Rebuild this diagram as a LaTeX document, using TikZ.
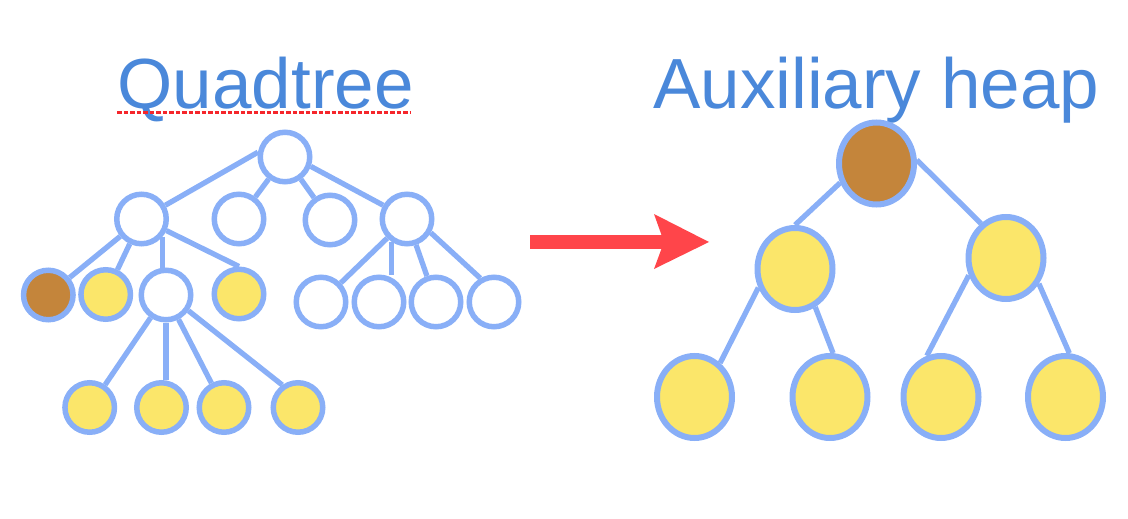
\documentclass[tikz,border=0pt]{standalone}
\usepackage{fontspec}
\setmainfont{Liberation Sans}
\usetikzlibrary{shapes.geometric}
\definecolor{edgeblue}{HTML}{89AFF7}
\definecolor{nodeyellow}{HTML}{FBE66A}
\definecolor{nodebrown}{HTML}{C4853B}
\definecolor{titleblue}{HTML}{4A88DA}
\definecolor{arrowred}{HTML}{FF454A}
\definecolor{squig}{HTML}{F5262B}
\begin{document}
\begin{tikzpicture}[x=1pt,y=-1pt,
  qn/.style={circle,draw=edgeblue,line width=5.5pt,minimum size=49.5pt,inner sep=0pt,fill=white},
  yq/.style={qn,fill=nodeyellow},
  bq/.style={qn,fill=nodebrown},
  hn/.style={ellipse,draw=edgeblue,line width=6pt,minimum width=75pt,minimum height=82pt,inner sep=0pt,fill=nodeyellow},
  link/.style={draw=edgeblue,line width=5.3pt},
  title/.style={text=titleblue,inner sep=0pt,font=\fontsize{71}{80}\selectfont}]
\useasboundingbox (0,0) rectangle (1128,519);

% titles
\node[title,anchor=base west] (tq) at (117.5,108) {Quadtree};
\node[title,anchor=base west] (th) at (653,108.5) {Auxiliary heap};
\draw[squig,line width=3.5pt,dash pattern=on 4.5pt off 2pt] (117,112.5) -- (411,112.5);

% quadtree nodes
\node[qn] (root) at (285,157) {};
\node[qn] (A) at (141.5,219) {};
\node[qn] (B) at (239,219) {};
\node[qn] (C) at (330,220) {};
\node[qn] (D) at (407,219) {};
\node[bq] (Ab) at (48.3,295) {};
\node[yq] (Ay1) at (105.7,294.5) {};
\node[qn] (M) at (166,295) {};
\node[yq] (Ay2) at (239,294) {};
\node[qn] (W1) at (321,302) {};
\node[qn] (W2) at (379,302) {};
\node[qn] (W3) at (436,302) {};
\node[qn] (W4) at (494,302) {};
\node[yq] (L1) at (89.7,407.5) {};
\node[yq] (L2) at (161.5,407.5) {};
\node[yq] (L3) at (224,407.5) {};
\node[yq] (L4) at (298,407.5) {};

% quadtree edges
\draw[link] (root.170) -- (A.30);
\draw[link] (root) -- (B);
\draw[link] (root) -- (C);
\draw[link] (root.-20) -- (D.150);
\draw[link] (A) -- (Ab);
\draw[link] (A) -- (Ay1);
\draw[link] (A.-40) -- (A.-40 |- M.north);
\draw[link] (A.-25) -- (Ay2.north);
\draw[link] (D) -- (W1);
\draw[link] (D.-124) -- (D.-124 |- W2.north);
\draw[link] (D) -- (W3);
\draw[link] (D.-30) -- (W4.120);
\draw[link] (M) -- (L1);
\draw[link] (M.south) -- (M.south |- L2.north);
\draw[link] (M) -- (L3);
\draw[link] (M.-35) -- (L4.125);

% arrow
\fill[arrowred] (530,235) rectangle (664,249);
\fill[arrowred] (654,214) -- (709,242) -- (654,269) -- (664,242) -- cycle;

% heap nodes
\node[hn,fill=nodebrown] (hr) at (876.5,163.5) {};
\node[hn] (hl) at (795,269) {};
\node[hn] (hR) at (1006,258) {};
\node[hn] (h1) at (694.5,397) {};
\node[hn] (h2) at (830,397) {};
\node[hn] (h3) at (941,397) {};
\node[hn] (h4) at (1065.5,397) {};

% heap edges
\draw[link] (hr.208) -- (hl.north);
\draw[link] (hr.5) -- (hR.126);
\draw[link] (hl.207) -- (h1.53);
\draw[link] (hl.-62) -- (h2.86);
\draw[link] (hR.205) -- (h3.109);
\draw[link] (hR.-38) -- (h4.85);
\end{tikzpicture}
\end{document}
